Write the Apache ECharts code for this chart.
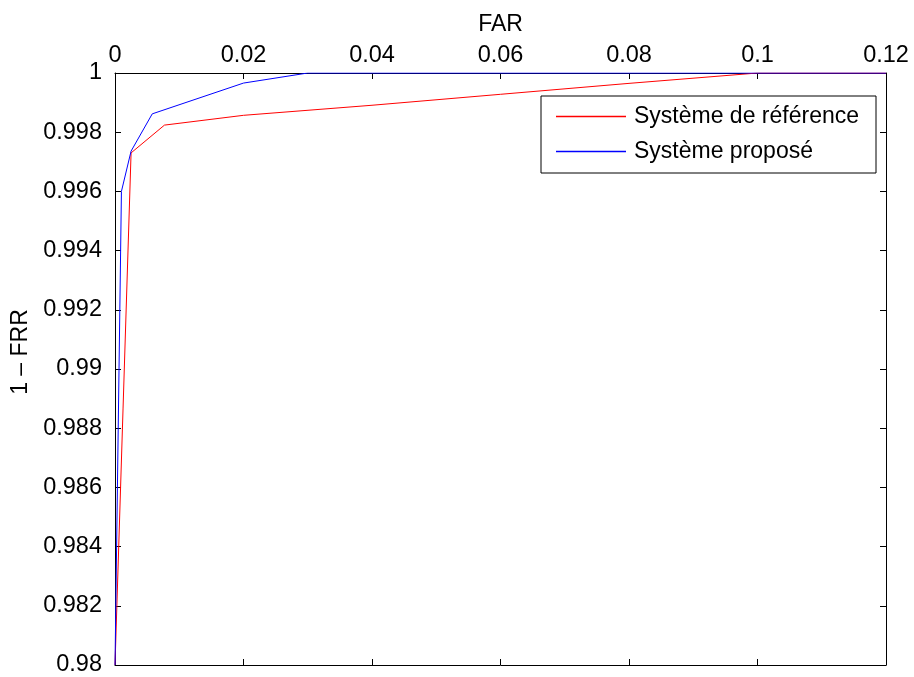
<!DOCTYPE html>
<html>
<head>
<meta charset="utf-8">
<script src="https://cdn.jsdelivr.net/npm/echarts@6/dist/echarts.min.js"></script>
<style>html,body{margin:0;padding:0;background:#fff}#c{width:914px;height:677px}</style>
</head>
<body>
<div id="c"></div>
<script>
const xTitle = 'FAR';
const yTitle = '1 – FRR';
const seriesNames = ['Système de référence', 'Système proposé'];
const refFAR = [0, 0.0025, 0.0077, 0.02, 0.04, 0.06, 0.08, 0.1, 0.12];
const refGAR = [0.98, 0.9973, 0.99824, 0.99857, 0.99891, 0.99928, 0.99965, 1, 1];
const propFAR = [0, 0.001, 0.0025, 0.0058, 0.02, 0.03, 0.12];
const propGAR = [0.98, 0.996, 0.99736, 0.99862, 0.99966, 1, 1];

const FONT = 'Liberation Sans';
const fsTick = 23.5;
const fsTitle = 23;
const fsLegend = 23;
const chart = echarts.init(document.getElementById('c'));
const pair = (xs, ys) => xs.map((x, i) => [x, ys[i]]);
const axisCommon = {
  type: 'value',
  axisLine: { show: true, onZero: false, lineStyle: { color: '#000', width: 1 } },
  axisTick: { show: true, inside: true, length: 6, lineStyle: { color: '#000' } },
  splitLine: { show: false }
};
chart.setOption({
  animation: false,
  backgroundColor: '#fff',
  grid: { left: 115, right: 28, top: 73, bottom: 11, containLabel: false },
  legend: {
    orient: 'vertical', left: 541, top: 96,
    padding: [9, 13, 10, 15],
    itemWidth: 70, itemHeight: 1.5, itemGap: 12,
    icon: 'rect',
    borderColor: '#000', borderWidth: 1, backgroundColor: '#fff',
    textStyle: { fontFamily: FONT, fontSize: fsLegend, color: '#000', lineHeight: 22, width: 229, padding: [0, 0, 0, 3] },
    data: seriesNames
  },
  xAxis: [
    Object.assign({}, axisCommon, {
      position: 'top', min: 0, max: 0.12, interval: 0.02,
      name: xTitle, nameLocation: 'middle', nameGap: 37,
      nameTextStyle: { fontFamily: FONT, fontSize: fsTitle, color: '#000' },
      axisLabel: { fontFamily: FONT, fontSize: fsTick, color: '#000', margin: 5,
        formatter: v => String(+v.toFixed(2)) }
    }),
    Object.assign({}, axisCommon, {
      position: 'bottom', min: 0, max: 0.12, interval: 0.02,
      axisLabel: { show: false }
    })
  ],
  yAxis: [
    Object.assign({}, axisCommon, {
      position: 'left', min: 0.98, max: 1, interval: 0.002,
      name: yTitle, nameLocation: 'middle', nameGap: 78,
      nameTextStyle: { fontFamily: FONT, fontSize: fsTitle, color: '#000', padding: [0, 0, 0, 34] },
      axisLabel: { fontFamily: FONT, fontSize: fsTick, color: '#000', margin: 13,
        formatter: v => String(+v.toFixed(3)) }
    }),
    Object.assign({}, axisCommon, {
      position: 'right', min: 0.98, max: 1, interval: 0.002,
      axisLabel: { show: false }
    })
  ],
  series: [
    { name: seriesNames[0], type: 'line', xAxisIndex: 0, yAxisIndex: 0,
      data: pair(refFAR, refGAR), showSymbol: false, symbol: 'none',
      lineStyle: { color: '#ff0000', width: 1 }, itemStyle: { color: '#ff0000' } },
    { name: seriesNames[1], type: 'line', xAxisIndex: 0, yAxisIndex: 0,
      data: pair(propFAR, propGAR), showSymbol: false, symbol: 'none',
      lineStyle: { color: '#0000ff', width: 1 }, itemStyle: { color: '#0000ff' } }
  ]
});
</script>
</body>
</html>
